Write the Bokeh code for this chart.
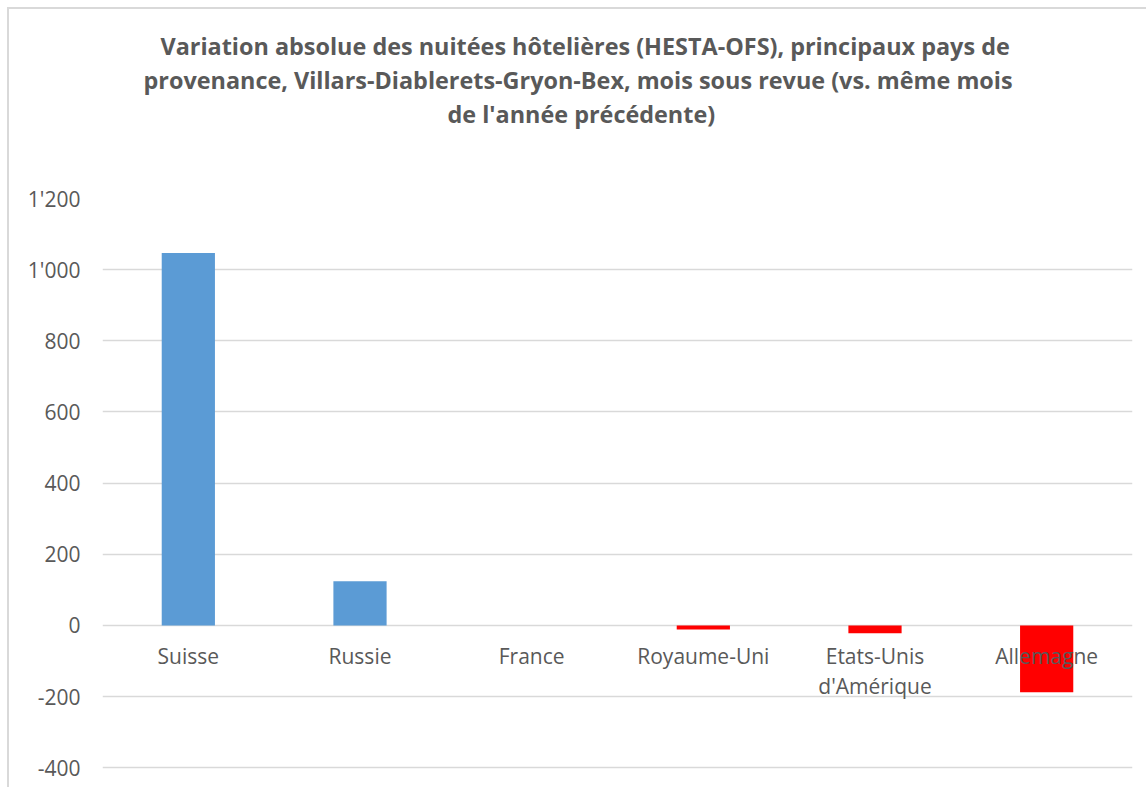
from bokeh.plotting import figure
from bokeh.models import Title, FixedTicker, CustomJSTickFormatter, ColumnDataSource, Range1d, FactorRange
from bokeh.core.properties import value
from bokeh.embed import file_html
from bokeh.resources import INLINE

# ---- data ----
countries = ["Suisse", "Russie", "France", "Royaume-Uni", "Etats-Unis d'Amérique", "Allemagne"]
country_labels = ["Suisse", "Russie", "France", "Royaume-Uni", "Etats-Unis\nd'Amérique", "Allemagne"]
variation = [1047, 124, 0, -11, -22, -188]
y_ticks = [-400, -200, 0, 200, 400, 600, 800, 1000, 1200]
title_lines = [
    "Variation absolue des nuitées hôtelières (HESTA-OFS), principaux pays de",
    "provenance, Villars-Diablerets-Gryon-Bex, mois sous revue (vs. même mois",
    "de l'année précédente)",
]

POS = "#5B9BD5"
NEG = "#FF0000"
TXT = "#595959"
GRID = "#D9D9D9"
FONT = "Open Sans"

colors = [POS if v >= 0 else NEG for v in variation]
src = ColumnDataSource(dict(country=countries, label=country_labels, v=variation, color=colors,
                            zero=[0] * len(countries)))

p = figure(
    x_range=FactorRange(*countries, range_padding=0),
    y_range=Range1d(-461, 1200),
    width=1139, height=780,
    output_backend="svg", toolbar_location=None,
    min_border_left=93, min_border_right=16, min_border_bottom=0, min_border_top=189,
)
p.styles = {"margin-left": "7px", "margin-top": "7px",
            "border-left": "2px solid " + GRID, "border-top": "2px solid " + GRID}
p.outline_line_color = None
p.background_fill_color = "white"
p.border_fill_color = "white"

p.vbar(x="country", top="v", bottom=0, width=0.31, fill_color="color", line_color=None, source=src)

p.text(x="country", y="zero", text="label", source=src,
       text_font=value(FONT), text_font_size="21px", text_color=TXT,
       text_align="center", text_baseline="top", text_line_height=1.05, y_offset=17)

p.xaxis.visible = False
p.xgrid.visible = False
p.ygrid.grid_line_color = GRID
p.ygrid.grid_line_width = 1.4

yax = p.yaxis[0]
yax.ticker = FixedTicker(ticks=y_ticks)
yax.formatter = CustomJSTickFormatter(code="""
var s = Math.abs(tick).toFixed(0).replace(/\\B(?=(\\d{3})+(?!\\d))/g, "'");
return (tick < 0 ? "-" : "") + s;
""")
yax.axis_line_color = None
yax.major_tick_line_color = None
yax.minor_tick_line_color = None
yax.major_tick_out = 0
yax.major_tick_in = 0
yax.major_label_standoff = 22
yax.major_label_text_font = FONT
yax.major_label_text_font_size = "21px"
yax.major_label_text_color = TXT

# spacer between title block and plot area (added first = closest to the plot)
p.add_layout(Title(text=" ", standoff=56, text_font_size="10px"), "above")
# title: three lines, innermost added first
offsets = [58, 41, 345]
for line, off in reversed(list(zip(title_lines, offsets))):
    t = Title(text=line, align="left", offset=off, standoff=0,
              text_font=FONT, text_font_size="23.4px", text_font_style="bold",
              text_color=TXT)
    p.add_layout(t, "above")

open("out.html", "w").write(file_html(p, INLINE))
